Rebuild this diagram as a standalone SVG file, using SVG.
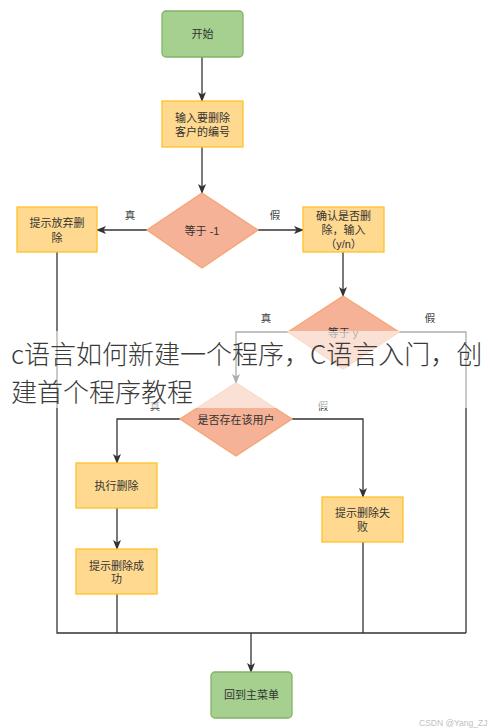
<svg xmlns="http://www.w3.org/2000/svg" width="490" height="728" viewBox="0 0 490 728">
<defs>
<style>
.t{font-family:"Liberation Sans","Noto Sans CJK SC",sans-serif;font-size:11px;fill:#333;text-anchor:middle;dominant-baseline:central}
.lb{font-family:"Liberation Sans","Noto Sans CJK SC",sans-serif;font-size:10.5px;fill:#444;text-anchor:middle;dominant-baseline:central}
.g{fill:#a5d08f;stroke:#82b366;stroke-width:1.3}
.y{fill:#ffd98f;stroke:#ffc227;stroke-width:1.3}
.d{fill:#f5b296;stroke:#f6a574;stroke-width:1.3}
.c{fill:none;stroke:#333;stroke-width:1.3}
.title{font-family:"Noto Sans CJK SC","Liberation Sans",sans-serif;font-size:26px;font-weight:300;fill:#3a3a3a}
</style>
<marker id="ah" markerWidth="10" markerHeight="10" refX="9" refY="5" orient="auto" markerUnits="userSpaceOnUse">
<path d="M0,1 L10,5 L0,9 L2.5,5 Z" fill="#333"/>
</marker>
</defs>
<rect width="490" height="728" fill="#fff"/>
<g id="connectors">
<path class="c" d="M202,57 V101" marker-end="url(#ah)"/>
<path class="c" d="M202,147 V193" marker-end="url(#ah)"/>
<path class="c" d="M147,230 H97" marker-end="url(#ah)"/>
<path class="c" d="M258,230 H303" marker-end="url(#ah)"/>
<path class="c" d="M343,252 V296" marker-end="url(#ah)"/>
<path class="c" d="M288,332 H236 V383" marker-end="url(#ah)"/>
<path class="c" d="M399,332 H466 V633"/>
<path class="c" d="M180,419 H117 V463" marker-end="url(#ah)"/>
<path class="c" d="M292,419 H363 V497" marker-end="url(#ah)"/>
<path class="c" d="M117,508 V549" marker-end="url(#ah)"/>
<path class="c" d="M117,594 V633"/>
<path class="c" d="M363,542 V633"/>
<path class="c" d="M57,252 V633 H466"/>
<path class="c" d="M251,633 V672" marker-end="url(#ah)"/>
<text class="lb" x="130" y="215">真</text>
<text class="lb" x="275" y="215">假</text>
<text class="lb" x="266" y="318">真</text>
<text class="lb" x="430" y="318">假</text>
<text class="lb" x="155" y="406">真</text>
<text class="lb" x="323" y="406">假</text>
</g>
<g id="start"><rect class="g" x="162" y="11" width="81" height="46" rx="4"/><text class="t" x="202.5" y="34">开始</text></g>
<g id="input"><rect class="y" x="162" y="101" width="81" height="46"/><text class="t" x="202.5" y="118">输入要删除</text><text class="t" x="202.5" y="132">客户的编号</text></g>
<g id="eq-1"><path class="d" d="M202,193 L258,230 L202,268 L147,230 Z"/><text class="t" x="202" y="231">等于 -1</text></g>
<g id="giveup"><rect class="y" x="17" y="207" width="80" height="45"/><text class="t" x="57" y="223">提示放弃删</text><text class="t" x="57" y="238">除</text></g>
<g id="confirm"><rect class="y" x="303" y="207" width="81" height="45"/><text class="t" x="343.5" y="216">确认是否删</text><text class="t" x="343.5" y="230">除，输入</text><text class="t" x="343.5" y="244">（y/n）</text></g>
<g id="eqy"><path class="d" d="M343,296 L399,332 L343,369 L288,332 Z"/><text class="t" x="343" y="333">等于 y</text></g>
<g id="exists"><path class="d" d="M236,383 L292,419 L236,456 L180,419 Z"/><text class="t" x="236" y="420">是否存在该用户</text></g>
<g id="delete"><rect class="y" x="76" y="463" width="81" height="45"/><text class="t" x="116.5" y="486">执行删除</text></g>
<g id="fail"><rect class="y" x="322" y="497" width="81" height="45"/><text class="t" x="362.5" y="513">提示删除失</text><text class="t" x="362.5" y="527">败</text></g>
<g id="success"><rect class="y" x="76" y="549" width="81" height="45"/><text class="t" x="116.5" y="566">提示删除成</text><text class="t" x="116.5" y="579">功</text></g>
<g id="menu"><rect class="g" x="211" y="672" width="81" height="46" rx="4"/><text class="t" x="251.5" y="695">回到主菜单</text></g>
<g id="overlay">
<rect x="0" y="331" width="490" height="77" fill="#fff" fill-opacity="0.6"/>
<text class="title" x="11" y="364">c语言如何新建一个程序，C语言入门，创</text>
<text class="title" x="11" y="402">建首个程序教程</text>
</g>
<text x="419" y="726" font-family="Liberation Sans,sans-serif" font-size="8.5" fill="#c0c0c0">CSDN @Yang_ZJ</text>
</svg>
